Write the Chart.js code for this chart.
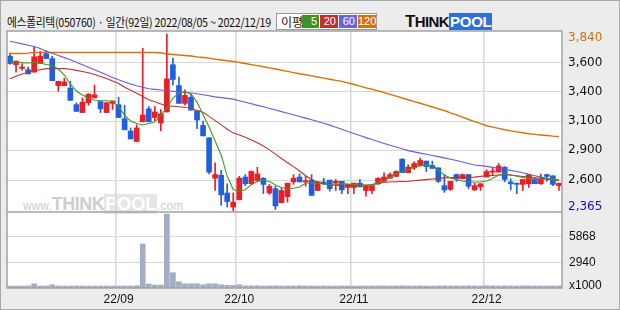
<!DOCTYPE html>
<html>
<head>
<meta charset="utf-8">
<script src="https://cdn.jsdelivr.net/npm/chart.js@4.4.1/dist/chart.umd.min.js"></script>
<style>
body { margin: 0; }
#wrap { position: relative; width: 620px; height: 310px; background: #ececec; outline: 1px solid #a8a8a8; outline-offset: -1px; overflow: hidden; font-family: "Noto Sans CJK KR", sans-serif; }
#plotbg { position: absolute; left: 7px; top: 31px; width: 555px; height: 257px; background: #fff; }
#mark { position: absolute; left: 16px; top: 163px; color: #cdcdcd; white-space: nowrap; font-family: "Liberation Sans", Arial, sans-serif; }
#mark .w { font-size: 12px; }
#mark .t { font-size: 18px; font-weight: bold; letter-spacing: -0.5px; }
#mark .p { font-size: 18px; font-weight: bold; background: #e6e6e6; color: #fff; padding: 0 1px; }
#title { position: absolute; left: 7px; top: 13px; font-size: 12px; letter-spacing: -0.3px; color: #111; white-space: nowrap; transform-origin: 0 50%; }
#legend { position: absolute; left: 276px; top: 13px; width: 99px; height: 15px; background: #fff; border: 1px solid #9a9a9a; font-size: 12px; }
#legend .l { position: absolute; left: 4px; top: -1px; color: #111; }
#legend .b { position: absolute; top: 1px; height: 13px; color: #fff; font-size: 11px; line-height: 13px; text-align: right; padding-right: 2px; box-sizing: border-box; font-family: "Liberation Sans", sans-serif; }
#logo { position: absolute; left: 405px; top: 14px; height: 16px; font-family: "Liberation Sans", Arial, sans-serif; font-weight: bold; font-size: 15px; line-height: 16px; white-space: nowrap; }
#logo .k { color: #111; letter-spacing: -0.6px; }
#logo .k b { font-size: 17px; }
#logo .o { color: #fff; background: #2f6fd6; padding: 0 1px; letter-spacing: -0.3px; }
canvas { position: absolute; left: 0; top: 0; }
</style>
</head>
<body>
<div id="wrap">
  <div id="plotbg">
    <div id="mark"><span class="w">www.</span><span class="t">THINK</span><span class="p">POOL</span><span class="w">.com</span></div>
  </div>
  <div id="title">에스폴리텍(050760) · 일간(92일) 2022/08/05 ~ 2022/12/19</div>
  <div id="legend">
    <span class="l">이평</span>
    <span class="b" style="left:25px;width:17px;background:#3f8f2a">5</span>
    <span class="b" style="left:43px;width:18px;background:#c4312a">20</span>
    <span class="b" style="left:62px;width:18px;background:#6a63d6">60</span>
    <span class="b" style="left:81px;width:18px;background:#d2700c">120</span>
  </div>
  <div id="logo"><span class="k"><b>T</b>HINK</span><span class="o">POOL</span></div>
  <canvas id="chart" width="620" height="310"></canvas>
</div>
<script>
const dates = [
  '08/05','08/08','08/09','08/10','08/11','08/12','08/16','08/17','08/18','08/19',
  '08/22','08/23','08/24','08/25','08/26','08/29','08/30','08/31','09/01','09/02',
  '09/05','09/06','09/07','09/08','09/13','09/14','09/15','09/16','09/19','09/20',
  '09/21','09/22','09/23','09/26','09/27','09/28','09/29','09/30','10/04','10/05',
  '10/06','10/07','10/11','10/12','10/13','10/14','10/17','10/18','10/19','10/20',
  '10/21','10/24','10/25','10/26','10/27','10/28','10/31','11/01','11/02','11/03',
  '11/04','11/07','11/08','11/09','11/10','11/11','11/14','11/15','11/16','11/17',
  '11/18','11/21','11/22','11/23','11/24','11/25','11/28','11/29','11/30','12/01',
  '12/02','12/05','12/06','12/07','12/08','12/09','12/12','12/13','12/14','12/15',
  '12/16','12/19'
];
const openP = [
  3635,3565,3535,3525,3505,3575,3655,3615,3395,3395,
  3375,3240,3175,3255,3295,3265,3175,3250,3240,3125,
  3025,2940,3100,3205,3135,3090,3180,3565,3395,3250,
  3300,3190,3070,2970,2640,2665,2520,2405,2465,2650,
  2595,2620,2640,2520,2555,2440,2490,2610,2650,2610,
  2625,2540,2610,2625,2600,2615,2565,2565,2600,2540,
  2540,2595,2615,2640,2655,2795,2685,2725,2745,2780,
  2745,2725,2580,2550,2670,2635,2670,2545,2570,2650,
  2690,2690,2730,2610,2600,2590,2595,2635,2595,2670,
  2660,2580
];
const highP = [
  3660,3595,3575,3545,3710,3675,3680,3635,3430,3455,
  3430,3255,3295,3330,3400,3265,3260,3270,3300,3235,
  3050,3075,3700,3225,3225,3200,3815,3620,3465,3360,
  3325,3190,3105,2970,2765,2705,2595,2520,2655,2670,
  2700,2730,2645,2590,2575,2560,2600,2670,2675,2655,
  2670,2615,2640,2625,2630,2615,2590,2600,2630,2580,
  2580,2645,2685,2685,2700,2800,2750,2775,2805,2780,
  2780,2725,2670,2615,2675,2675,2670,2600,2595,2710,
  2730,2760,2735,2635,2600,2630,2670,2640,2675,2675,
  2660,2600
];
const lowP = [
  3570,3505,3520,3490,3505,3575,3615,3435,3350,3395,
  3275,3185,3175,3235,3295,3175,3175,3200,3135,3035,
  2960,2940,3100,3100,3110,3025,3180,3400,3250,3235,
  3195,3045,2985,2675,2540,2420,2405,2375,2465,2580,
  2595,2620,2515,2510,2385,2440,2445,2590,2610,2575,
  2500,2540,2590,2535,2540,2515,2515,2515,2570,2495,
  2515,2590,2615,2640,2650,2685,2685,2710,2745,2695,
  2720,2605,2525,2540,2615,2635,2555,2540,2540,2650,
  2670,2690,2610,2545,2515,2540,2565,2595,2590,2615,
  2580,2540
];
const closeP = [
  3575,3595,3545,3490,3630,3635,3615,3435,3430,3425,
  3275,3185,3260,3325,3320,3205,3255,3270,3135,3035,
  2960,3050,3155,3100,3180,3165,3450,3445,3250,3315,
  3195,3115,2985,2690,2670,2505,2450,2445,2640,2595,
  2695,2675,2590,2575,2415,2540,2600,2640,2610,2620,
  2500,2610,2595,2555,2615,2545,2590,2600,2570,2580,
  2580,2640,2650,2670,2695,2685,2730,2760,2785,2735,
  2720,2615,2545,2615,2635,2670,2575,2580,2595,2695,
  2700,2740,2630,2595,2590,2630,2670,2595,2630,2655,
  2590,2600
];
// 거래량 (x1000)
const volume = [
  230,220,230,240,480,230,240,380,230,220,
  230,240,230,220,230,220,230,220,230,240,
  230,260,5060,460,350,340,8500,1760,720,490,
  490,490,380,490,490,380,300,300,380,250,
  240,260,230,240,250,230,240,230,260,240,
  230,220,240,230,220,240,230,220,230,240,
  230,250,240,230,240,260,240,230,240,230,
  220,240,250,230,240,230,250,240,230,260,
  240,230,250,240,230,240,250,230,240,230,
  240,230
];
const ma5 = [
  3595,3587,3582,3579,3583,3579,3567,3559,3530,3481,
  3408,3351,3318,3294,3278,3272,3272,3265,3221,3155,
  3106,3086,3074,3086,3098,3155,3212,3294,3335,3343,
  3327,3261,3158,3058,2944,2830,2658,2548,2534,2547,
  2588,2613,2626,2613,2585,2565,2555,2558,2569,2601,
  2601,2599,2593,2588,2585,2597,2593,2588,2585,2583,
  2588,2601,2615,2650,2675,2691,2710,2728,2740,2750,
  2744,2707,2666,2642,2630,2618,2610,2610,2610,2618,
  2638,2667,2675,2669,2656,2646,2638,2630,2630,2636,
  2631,2626
];
const ma20 = [
  3451,3471,3489,3502,3516,3524,3533,3533,3533,3533,
  3528,3519,3510,3500,3485,3470,3453,3432,3412,3381,
  3357,3332,3306,3280,3263,3245,3230,3227,3223,3217,
  3214,3191,3178,3144,3110,3075,3040,3010,2992,2974,
  2952,2929,2903,2871,2837,2801,2767,2735,2699,2661,
  2630,2605,2595,2587,2583,2580,2579,2580,2582,2585,
  2587,2596,2607,2609,2611,2613,2615,2620,2625,2629,
  2634,2639,2643,2645,2647,2648,2648,2649,2655,2661,
  2663,2666,2668,2665,2660,2654,2649,2644,2639,2634,
  2629,2625
];
const ma60 = [
  3757,3746,3735,3724,3713,3697,3675,3658,3641,3623,
  3606,3586,3565,3545,3524,3503,3483,3462,3442,3425,
  3408,3394,3382,3370,3364,3359,3353,3349,3346,3341,
  3335,3329,3321,3312,3303,3297,3291,3285,3272,3259,
  3247,3234,3222,3209,3196,3183,3170,3157,3144,3130,
  3116,3102,3088,3073,3056,3039,3021,3005,2988,2971,
  2955,2939,2924,2909,2895,2880,2865,2855,2845,2835,
  2826,2816,2806,2795,2785,2773,2760,2748,2743,2737,
  2729,2721,2713,2704,2695,2685,2673,2661,2649,2639,
  2630,2622
];
const ma120 = [
  3657,3657,3657,3660,3665,3665,3665,3665,3665,3665,
  3665,3665,3665,3665,3665,3665,3665,3665,3665,3665,
  3665,3665,3665,3665,3665,3663,3652,3648,3645,3640,
  3636,3629,3624,3619,3610,3604,3598,3592,3583,3575,
  3566,3558,3549,3539,3530,3520,3511,3501,3492,3483,
  3474,3465,3456,3447,3438,3430,3417,3404,3391,3377,
  3366,3352,3338,3323,3309,3294,3280,3265,3251,3236,
  3221,3206,3192,3173,3156,3138,3119,3101,3085,3068,
  3057,3046,3035,3026,3018,3011,3003,2998,2993,2988,
  2983,2980
];
const priceTicks = [2405, 2624, 2868, 3105, 3343, 3580, 3783];
const priceTickLabels = ['2,365', '2,600', '2,900', '3,100', '3,400', '3,600', '3,840'];
const volTicks = [260, 2940, 5868];
const volTickLabels = ['x1000', '2940', '5868'];
const monthStarts = ['09/01', '10/04', '11/01', '12/01'];
const monthLabels = ['22/09', '22/10', '22/11', '22/12'];

// 제목 폭을 원본(약 264px)에 맞춤
const title = document.getElementById('title');
title.style.transform = 'scaleX(' + (264 / title.offsetWidth) + ')';

const UP = '#ee1c24';
const DOWN = '#1f5fe0';
const GRID = '#d6d6d6';
const candleColor = c => closeP[c.dataIndex] >= openP[c.dataIndex] ? UP : DOWN;

const frame = {
  id: 'frame',
  afterDraw(chart) {
    const a = chart.chartArea;
    const ctx = chart.ctx;
    const yb = chart.scales.y.bottom;
    ctx.save();
    ctx.strokeStyle = '#a2a2a2';
    ctx.lineWidth = 1.5;
    ctx.strokeRect(a.left, a.top, a.right - a.left, a.bottom - a.top);
    ctx.beginPath();
    ctx.moveTo(a.left, yb);
    ctx.lineTo(a.right, yb);
    ctx.stroke();
    ctx.restore();
  }
};

function maLine(label, data, color, width) {
  return {
    type: 'line', label: label, data: data, yAxisID: 'y',
    borderColor: color, borderWidth: width, pointRadius: 0,
    tension: 0, fill: false, order: 0
  };
}

new Chart(document.getElementById('chart'), {
  type: 'bar',
  data: {
    labels: dates,
    datasets: [
      maLine('MA5', ma5, '#3f9a22', 1.1),
      maLine('MA20', ma20, '#c4312a', 1.1),
      maLine('MA60', ma60, '#6a5ad8', 1.1),
      maLine('MA120', ma120, '#d6700c', 1.4),
      {
        label: 'wick', data: highP.map((h, i) => [lowP[i], h]), yAxisID: 'y',
        backgroundColor: candleColor, barThickness: 1, grouped: false, order: 2
      },
      {
        label: 'body', data: openP.map((o, i) => [o, closeP[i]]), yAxisID: 'y',
        backgroundColor: candleColor, barThickness: 5, minBarLength: 1, grouped: false, order: 1
      },
      {
        label: 'volume', data: volume, yAxisID: 'yv',
        backgroundColor: '#a3adc4', barThickness: 5, grouped: false, order: 1
      }
    ]
  },
  options: {
    responsive: false,
    animation: false,
    devicePixelRatio: 1,
    layout: { padding: { left: 7, top: 31, right: 0, bottom: 0 } },
    plugins: { legend: { display: false }, tooltip: { enabled: false } },
    scales: {
      x: {
        type: 'category',
        offset: true,
        border: { display: false },
        grid: {
          offset: true,
          drawTicks: false,
          lineWidth: 1.5,
          color: c => monthStarts.includes(dates[c.index]) ? GRID : 'rgba(0,0,0,0)'
        },
        ticks: {
          autoSkip: false,
          maxRotation: 0,
          padding: 4,
          color: '#111',
          font: { family: 'Liberation Sans', size: 12 },
          callback: (v, i) => {
            const k = monthStarts.indexOf(dates[i]);
            return k < 0 ? '' : monthLabels[k];
          }
        },
        afterFit: s => { s.height = 22; }
      },
      y: {
        position: 'right',
        stack: 'panel',
        stackWeight: 181,
        min: 2365,
        max: 3840,
        border: { display: false },
        afterBuildTicks: s => { s.ticks = priceTicks.map(v => ({ value: v })); },
        grid: {
          drawTicks: false,
          color: c => (c.index === 0 || c.index === priceTicks.length - 1) ? 'rgba(0,0,0,0)' : GRID
        },
        ticks: {
          autoSkip: false,
          padding: 6,
          font: { family: 'DejaVu Sans', size: 12 },
          color: c => c.index === priceTicks.length - 1 ? '#d2700c' : (c.index === 0 ? '#1010c8' : '#111'),
          callback: (v, i) => priceTickLabels[i]
        },
        afterFit: s => { s.width = 58; }
      },
      yv: {
        position: 'right',
        stack: 'panel',
        stackWeight: 76,
        min: 0,
        max: 8740,
        border: { display: false },
        afterBuildTicks: s => { s.ticks = volTicks.map(v => ({ value: v })); },
        grid: {
          drawTicks: false,
          color: c => c.index === 0 ? 'rgba(0,0,0,0)' : GRID
        },
        ticks: {
          autoSkip: false,
          padding: 7,
          font: { family: 'Liberation Sans', size: 12 },
          color: '#111',
          callback: (v, i) => volTickLabels[i]
        },
        afterFit: s => { s.width = 58; }
      }
    }
  },
  plugins: [frame]
});
</script>
</body>
</html>
